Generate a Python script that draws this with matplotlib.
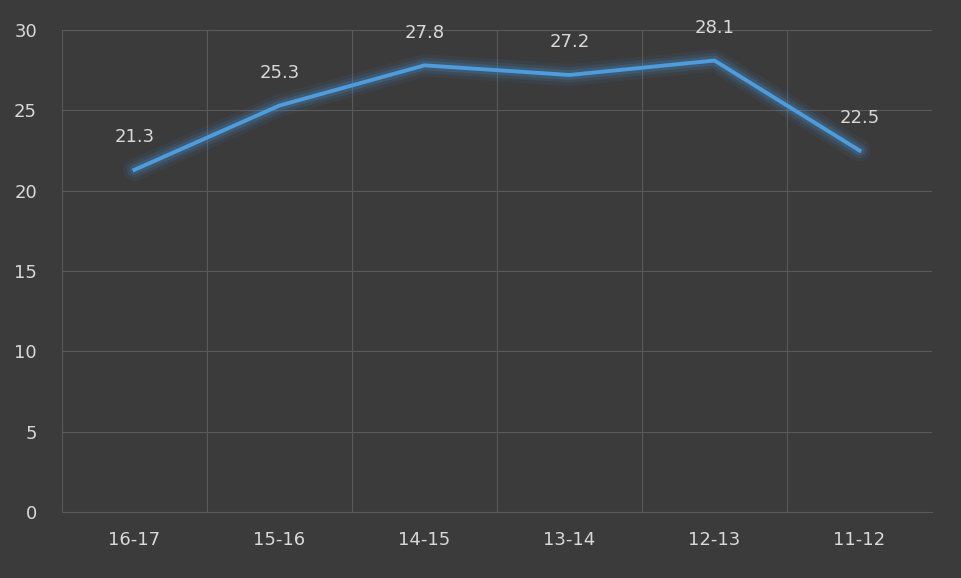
import matplotlib
matplotlib.use("Agg")
import matplotlib.pyplot as plt

categories = ["16-17", "15-16", "14-15", "13-14", "12-13", "11-12"]
values = [21.3, 25.3, 27.8, 27.2, 28.1, 22.5]
yticks = [0, 5, 10, 15, 20, 25, 30]

bg = "#3b3b3b"
fig = plt.figure(figsize=(9.62, 5.78), dpi=100, facecolor=bg)
ax = fig.add_axes([62/962, 66/578, 870/962, 482/578], facecolor=bg)
x = list(range(len(categories)))
for lw, a in [(16, 0.07), (11, 0.11), (7, 0.18)]:
    ax.plot(x, values, color="#4a9de0", lw=lw, alpha=a, solid_capstyle="round", solid_joinstyle="round")
ax.plot(x, values, color="#4a9de0", lw=2.8, solid_joinstyle="round")
for xi, v in zip(x, values):
    ax.annotate(f"{v}", (xi, v), xytext=(0, 17), textcoords="offset points",
                ha="center", va="bottom", color="#d9d9d9", fontsize=13)
ax.set_xlim(-0.5, len(categories) - 0.5)
ax.set_ylim(0, 30)
ax.set_yticks(yticks)
ax.set_xticks(x)
ax.set_xticklabels(categories)
ax.set_xticks([i - 0.5 for i in range(len(categories) + 1)], minor=True)
ax.grid(True, which="minor", axis="x", color="#5a5a5a", lw=0.8)
ax.grid(True, which="major", axis="y", color="#5a5a5a", lw=0.8)
ax.tick_params(which="both", length=0, colors="#d9d9d9", labelsize=13)
ax.tick_params(axis="x", pad=14)
ax.tick_params(axis="y", pad=18)
for s in ax.spines.values():
    s.set_visible(False)
ax.spines["bottom"].set_visible(True)
ax.spines["bottom"].set_color("#5a5a5a")
fig.savefig("out.png", dpi=100, facecolor=bg)
